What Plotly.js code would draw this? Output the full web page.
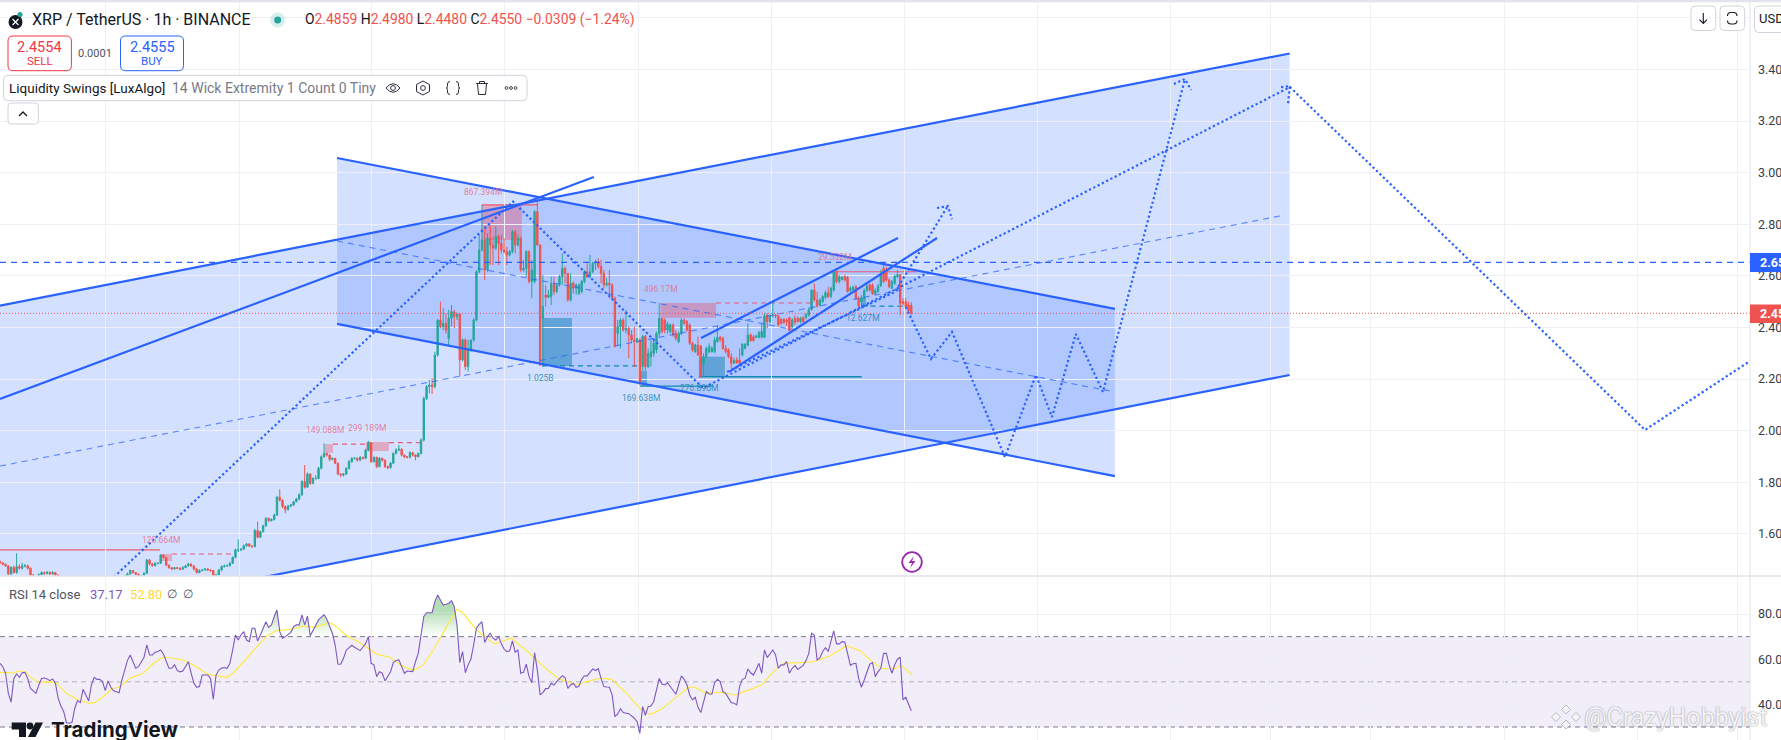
<!DOCTYPE html>
<html><head><meta charset="utf-8">
<script src="https://cdn.plot.ly/plotly-3.0.1.min.js"></script>
<style>html,body{margin:0;padding:0;background:#fff;overflow:hidden}#c{width:1781px;height:740px}</style>
</head><body><div id="c"></div>
<script>
// ---------- candles (hourly bars) ----------
const open=[1.492,1.488,1.482,1.476,1.445,1.470,1.450,1.473,1.467,1.476,
1.477,1.467,1.441,1.432,1.428,1.442,1.450,1.446,1.451,1.445,
1.450,1.441,1.432,1.428,1.425,1.422,1.418,1.420,1.416,1.413,
1.417,1.421,1.419,1.415,1.412,1.416,1.420,1.423,1.421,1.418,
1.422,1.425,1.423,1.427,1.428,1.432,1.437,1.445,1.458,1.450,
1.444,1.434,1.437,1.447,1.499,1.483,1.477,1.486,1.486,1.518,
1.509,1.479,1.469,1.464,1.469,1.467,1.463,1.469,1.476,1.483,
1.476,1.464,1.450,1.458,1.460,1.464,1.460,1.458,1.438,1.441,
1.460,1.473,1.476,1.477,1.486,1.509,1.538,1.538,1.541,1.554,
1.561,1.553,1.551,1.613,1.587,1.609,1.631,1.660,1.651,1.656,
1.673,1.742,1.731,1.706,1.695,1.708,1.712,1.725,1.735,1.751,
1.803,1.781,1.832,1.796,1.815,1.815,1.854,1.899,1.912,1.906,
1.889,1.893,1.874,1.832,1.828,1.832,1.854,1.880,1.893,1.893,
1.886,1.897,1.893,1.925,1.954,1.880,1.897,1.861,1.893,1.886,
1.861,1.857,1.874,1.912,1.925,1.928,1.906,1.899,1.897,1.915,
1.906,1.899,1.912,1.964,2.125,2.171,2.177,2.171,2.293,2.429,
2.403,2.416,2.358,2.436,2.461,2.442,2.452,2.274,2.352,2.248,
2.313,2.352,2.429,2.616,2.700,2.739,2.623,2.746,2.720,2.707,
2.752,2.726,2.700,2.694,2.681,2.694,2.771,2.720,2.746,2.623,
2.629,2.694,2.578,2.578,2.849,2.720,2.436,2.526,2.517,2.520,
2.571,2.539,2.565,2.597,2.629,2.610,2.507,2.571,2.552,2.532,
2.539,2.578,2.616,2.597,2.616,2.649,2.655,2.636,2.610,2.565,
2.571,2.565,2.513,2.377,2.403,2.429,2.390,2.397,2.371,2.352,
2.345,2.352,2.248,2.365,2.248,2.287,2.300,2.313,2.377,2.436,
2.429,2.390,2.384,2.410,2.377,2.345,2.377,2.429,2.423,2.410,
2.339,2.306,2.332,2.328,2.255,2.287,2.306,2.306,2.306,2.345,
2.362,2.358,2.319,2.313,2.287,2.261,2.274,2.274,2.293,2.319,
2.332,2.371,2.364,2.362,2.362,2.362,2.362,2.448,2.423,2.445,
2.448,2.445,2.432,2.432,2.429,2.438,2.403,2.436,2.436,2.423,
2.438,2.438,2.448,2.470,2.545,2.507,2.487,2.500,2.517,2.535,
2.520,2.545,2.617,2.578,2.587,2.597,2.595,2.543,2.545,2.558,
2.513,2.500,2.513,2.543,2.565,2.565,2.530,2.539,2.561,2.629,
2.623,2.584,2.552,2.571,2.597,2.604,2.500,2.500,2.487,2.4859];
const high=[1.497,1.490,1.486,1.478,1.474,1.478,1.525,1.482,1.488,1.484,
1.480,1.470,1.444,1.435,1.447,1.455,1.454,1.456,1.454,1.456,
1.452,1.436,1.432,1.430,1.428,1.426,1.424,1.423,1.420,1.421,
1.424,1.424,1.421,1.418,1.419,1.423,1.426,1.425,1.424,1.425,
1.428,1.428,1.430,1.431,1.435,1.440,1.450,1.462,1.460,1.452,
1.446,1.440,1.452,1.503,1.502,1.488,1.490,1.490,1.520,1.522,
1.510,1.481,1.472,1.472,1.472,1.470,1.475,1.480,1.488,1.486,
1.478,1.466,1.463,1.464,1.468,1.468,1.463,1.460,1.445,1.464,
1.478,1.481,1.482,1.492,1.512,1.543,1.579,1.545,1.559,1.565,
1.564,1.556,1.620,1.647,1.612,1.636,1.665,1.664,1.660,1.678,
1.748,1.773,1.734,1.710,1.712,1.716,1.728,1.740,1.758,1.808,
1.867,1.838,1.835,1.820,1.828,1.860,1.905,1.951,1.915,1.908,
1.896,1.894,1.876,1.835,1.836,1.858,1.886,1.897,1.898,1.896,
1.901,1.899,1.930,1.960,1.955,1.900,1.899,1.898,1.895,1.888,
1.864,1.878,1.916,1.932,1.945,1.932,1.905,1.902,1.920,1.918,
1.908,1.915,1.970,2.132,2.177,2.197,2.203,2.306,2.432,2.500,
2.474,2.455,2.468,2.487,2.468,2.458,2.455,2.358,2.358,2.352,
2.352,2.436,2.623,2.759,2.875,2.784,2.765,2.797,2.752,2.791,
2.759,2.759,2.746,2.713,2.700,2.778,2.778,2.759,2.752,2.662,
2.700,2.700,2.662,2.855,2.901,2.723,2.603,2.565,2.545,2.597,
2.597,2.571,2.603,2.687,2.636,2.610,2.610,2.578,2.571,2.571,
2.584,2.623,2.649,2.681,2.655,2.662,2.668,2.662,2.623,2.591,
2.623,2.571,2.520,2.429,2.436,2.436,2.468,2.403,2.390,2.403,
2.358,2.358,2.371,2.371,2.319,2.352,2.352,2.384,2.495,2.436,
2.436,2.423,2.416,2.416,2.390,2.384,2.436,2.436,2.429,2.416,
2.345,2.336,2.364,2.332,2.300,2.326,2.339,2.328,2.364,2.406,
2.367,2.364,2.332,2.319,2.300,2.281,2.285,2.319,2.339,2.339,
2.416,2.377,2.371,2.372,2.387,2.416,2.455,2.455,2.450,2.500,
2.452,2.448,2.436,2.436,2.436,2.442,2.436,2.448,2.442,2.442,
2.445,2.455,2.478,2.548,2.571,2.539,2.513,2.526,2.543,2.558,
2.558,2.623,2.623,2.604,2.600,2.604,2.600,2.561,2.561,2.565,
2.520,2.526,2.552,2.569,2.571,2.571,2.552,2.569,2.623,2.649,
2.636,2.591,2.584,2.604,2.623,2.607,2.513,2.513,2.500,2.498];
const low=[1.484,1.478,1.472,1.440,1.440,1.447,1.446,1.462,1.462,1.470,
1.462,1.436,1.428,1.424,1.426,1.440,1.442,1.444,1.441,1.443,
1.437,1.428,1.424,1.421,1.418,1.415,1.414,1.412,1.410,1.411,
1.415,1.416,1.412,1.409,1.410,1.414,1.418,1.418,1.415,1.416,
1.420,1.420,1.421,1.424,1.426,1.430,1.434,1.442,1.446,1.440,
1.430,1.431,1.435,1.445,1.478,1.473,1.474,1.482,1.484,1.505,
1.475,1.465,1.460,1.462,1.463,1.459,1.461,1.470,1.474,1.472,
1.458,1.446,1.448,1.455,1.458,1.456,1.453,1.435,1.436,1.439,
1.455,1.470,1.473,1.474,1.484,1.505,1.530,1.533,1.538,1.550,
1.549,1.546,1.548,1.583,1.584,1.605,1.628,1.647,1.648,1.652,
1.670,1.725,1.700,1.680,1.690,1.703,1.708,1.722,1.730,1.748,
1.776,1.778,1.790,1.792,1.810,1.812,1.850,1.895,1.900,1.882,
1.885,1.870,1.828,1.820,1.822,1.828,1.850,1.876,1.888,1.880,
1.882,1.888,1.889,1.920,1.875,1.876,1.855,1.858,1.880,1.855,
1.850,1.852,1.870,1.908,1.920,1.900,1.893,1.892,1.893,1.900,
1.885,1.896,1.908,1.958,2.119,2.145,2.142,2.164,2.287,2.397,
2.390,2.377,2.326,2.403,2.397,2.429,2.210,2.268,2.235,2.229,
2.306,2.345,2.423,2.610,2.694,2.584,2.616,2.642,2.642,2.700,
2.642,2.687,2.687,2.642,2.675,2.687,2.687,2.713,2.616,2.616,
2.597,2.571,2.513,2.571,2.716,2.251,2.248,2.481,2.513,2.487,
2.526,2.532,2.558,2.565,2.571,2.500,2.500,2.532,2.526,2.526,
2.532,2.571,2.591,2.591,2.610,2.623,2.629,2.571,2.552,2.558,
2.513,2.507,2.323,2.326,2.319,2.384,2.377,2.281,2.339,2.248,
2.339,2.177,2.235,2.235,2.242,2.248,2.287,2.300,2.365,2.377,
2.377,2.377,2.377,2.364,2.349,2.339,2.371,2.410,2.384,2.332,
2.306,2.302,2.290,2.207,2.209,2.281,2.300,2.302,2.300,2.341,
2.345,2.313,2.300,2.281,2.242,2.259,2.259,2.259,2.287,2.315,
2.328,2.345,2.345,2.358,2.358,2.358,2.358,2.397,2.416,2.439,
2.436,2.403,2.410,2.414,2.406,2.384,2.397,2.410,2.419,2.416,
2.416,2.432,2.442,2.465,2.500,2.478,2.481,2.494,2.509,2.513,
2.513,2.539,2.571,2.571,2.582,2.578,2.535,2.535,2.543,2.507,
2.478,2.478,2.507,2.537,2.539,2.526,2.526,2.535,2.558,2.574,
2.578,2.552,2.548,2.565,2.591,2.448,2.487,2.474,2.452,2.448];
const close=[1.488,1.482,1.476,1.445,1.470,1.450,1.473,1.467,1.476,1.477,
1.467,1.441,1.432,1.428,1.442,1.450,1.446,1.451,1.445,1.450,
1.441,1.432,1.428,1.425,1.422,1.418,1.420,1.416,1.413,1.417,
1.421,1.419,1.415,1.412,1.416,1.420,1.423,1.421,1.418,1.422,
1.425,1.423,1.427,1.428,1.432,1.437,1.445,1.458,1.450,1.444,
1.434,1.437,1.447,1.499,1.483,1.477,1.486,1.486,1.518,1.509,
1.479,1.469,1.464,1.469,1.467,1.463,1.469,1.476,1.483,1.476,
1.464,1.450,1.458,1.460,1.464,1.460,1.458,1.438,1.441,1.460,
1.473,1.476,1.477,1.486,1.509,1.538,1.538,1.541,1.554,1.561,
1.553,1.551,1.613,1.587,1.609,1.631,1.660,1.651,1.656,1.673,
1.742,1.731,1.706,1.695,1.708,1.712,1.725,1.735,1.751,1.803,
1.781,1.832,1.796,1.815,1.815,1.854,1.899,1.912,1.906,1.889,
1.893,1.874,1.832,1.828,1.832,1.854,1.880,1.893,1.893,1.886,
1.897,1.893,1.925,1.954,1.880,1.897,1.861,1.893,1.886,1.861,
1.857,1.874,1.912,1.925,1.928,1.906,1.899,1.897,1.915,1.906,
1.899,1.912,1.964,2.125,2.171,2.177,2.171,2.293,2.429,2.403,
2.416,2.390,2.436,2.461,2.442,2.452,2.274,2.352,2.248,2.313,
2.352,2.429,2.616,2.700,2.739,2.623,2.746,2.720,2.707,2.752,
2.726,2.700,2.694,2.681,2.694,2.771,2.720,2.746,2.623,2.629,
2.694,2.578,2.623,2.849,2.720,2.255,2.481,2.517,2.526,2.571,
2.539,2.565,2.597,2.629,2.610,2.507,2.571,2.552,2.565,2.565,
2.578,2.616,2.597,2.616,2.649,2.655,2.636,2.610,2.565,2.571,
2.565,2.513,2.326,2.403,2.429,2.390,2.397,2.371,2.352,2.345,
2.358,2.184,2.365,2.248,2.300,2.306,2.339,2.377,2.436,2.384,
2.390,2.414,2.410,2.371,2.358,2.377,2.429,2.416,2.390,2.339,
2.313,2.332,2.293,2.209,2.287,2.319,2.326,2.319,2.352,2.362,
2.352,2.319,2.306,2.287,2.261,2.272,2.264,2.261,2.335,2.335,
2.371,2.349,2.349,2.367,2.380,2.384,2.445,2.423,2.445,2.448,
2.445,2.410,2.416,2.419,2.423,2.388,2.429,2.419,2.423,2.436,
2.423,2.451,2.470,2.545,2.507,2.483,2.507,2.520,2.535,2.520,
2.552,2.617,2.578,2.597,2.595,2.584,2.539,2.552,2.556,2.513,
2.483,2.517,2.543,2.561,2.545,2.530,2.543,2.561,2.604,2.578,
2.584,2.558,2.578,2.600,2.604,2.494,2.494,2.478,2.465,2.455];
const barIndex=close.map((_,i)=>i);
// ---------- RSI ----------
const rsi=[58.2,56.7,53.8,45,41,51.5,53.5,52,54,54.2,
51.5,47.1,46,44.9,48.6,51.5,51.7,51.3,50.5,51.3,
49.4,42.7,39.3,36.8,31.9,31.7,32.1,38.3,41.7,40.8,
46.7,43.7,41.5,48.6,52,51.1,51.1,50.1,46.1,50.4,
47.6,46,45.5,45.2,50.8,55.7,59.4,61.9,59.2,56,
56.7,58.9,60.9,66.3,61.9,61.9,63.1,63.4,64.1,62.3,
59.4,56,56,57.5,55,54.4,54.8,57.2,58.9,53.8,
49.4,47.6,47.9,53,53,53,51.5,42.3,53,55.2,
56.1,56.3,56,58.2,64.1,70.7,68.5,70.7,72.2,68.5,
67.8,73.7,73.7,68.1,70.7,74.1,76.6,74.1,75.2,78.9,
81.8,72.2,69.3,70,70.9,71.9,74.4,75.2,75.2,79.6,
75.2,79.1,70.4,72.9,75.6,77.4,78.6,79.7,77.7,74.7,
71.5,66.3,57.9,57.8,60.4,64,65.3,66.2,65.3,64.7,
63.8,65.3,67,70,58.2,57.5,52.3,54.5,53.8,50.4,
52.3,54.5,58.5,59.4,59.7,56.7,53.8,54.8,54.5,54.5,
58.9,62.6,70.7,78.9,80.6,80.6,80.6,85.5,88.4,86.2,
84,84.3,84.7,85.9,83.3,75.2,58.5,63.4,54,57.5,
60,66.3,73.7,75.4,76.6,67.4,70,71.5,69.3,68.5,
70,66.8,64.5,63.4,63.7,68.1,63.1,64.1,53.8,54.2,
57.8,52.3,49.6,62.9,55.2,44.2,45.2,47,47.1,49.4,
48.6,50.1,51.5,52.7,51.9,47.1,48.6,49.4,47.6,48,
51.1,52.7,52.6,54,55.7,55,55.8,51.5,47.9,47.7,
47.6,44.2,34.6,35.8,38.1,36.4,36.2,35.9,34.9,33.9,
32.4,27.2,39,35.2,39,39.3,41.2,47.1,51.5,49,
48.6,49.6,47.9,46.4,44.5,48.6,52.6,51.1,48.6,44.2,
42,43.2,38.7,36.4,41.2,45.7,44.6,44.5,49.6,51.1,
50.1,45.7,44.9,42.7,40.8,40.5,39.8,47.9,51.1,51.5,
55.7,54,53,55.5,58.2,53.8,64.1,60.7,62.6,64.1,
61.9,56,57.5,57.5,58.9,53.8,56,57.2,55.5,56.4,
57.3,59.4,62.6,71.5,70.7,59.7,60.6,63.4,65.1,63.4,
67.8,72.6,66.8,66.8,67.8,67.6,62.6,57.3,58,58.2,
51.5,47.6,50.8,54.5,57.8,58.5,52.3,54.5,56,62.6,
62.6,57.5,53.8,57.5,60,60.9,42,43.2,40.5,37.2];
const rsiMaBar=[0,2.4,4.8,6.6,9,10.8,13.8,18,20.5,24,27.7,31.9,34.3,37.3,40.3,43.3,46.9,51.7,55.4,59,66.2,71,74.6,81.8,84.2,89,92.7,96.3,99.9,104.7,109.5,113.7,119.1,121.5,125.1,128.7,132.4,136,140.8,144.4,149.2,152.8,156.4,160,164.9,166.7,172,175.7,178.7,181.7,184.7,188.3,192.6,196.2,201.6,208.2,211.8,216.6,220.8,226.2,231,234.7,238.3,243.7,248.5,250.9,255.1,259.9,265.4,269.6,275,279.2,282.8,288.8,293.6,299.6,305.7,310.5,314.1,318.3,322.5,325.5,329.4];
const rsiMaVal=[54.2,54.2,53.8,54.8,54.5,52.3,49.8,50.1,49.3,44.9,42.3,40.5,40.8,43.5,46.7,47.9,51.6,53.8,58.2,61.1,59.7,56.7,53.5,52,53.8,60.4,65.8,70.3,72.7,73.2,74.7,74.1,76.2,74.4,70.4,68.2,65.3,62.2,60.9,57.5,55,57.5,64.1,71.5,82.1,81,73,69.3,66.8,68.2,69.3,65.6,61.1,56.7,51.5,48.6,50.1,51.6,51.1,44.9,38.3,35.6,37.5,42.7,47.6,47.6,44.9,45.4,44.2,46.1,48.6,54.5,58.2,58.5,58.9,61.4,66,63.8,59.7,56,55.7,57.2,53];
// ---------- axis ticks ----------
const priceTicks=[1.6,1.8,2,2.2,2.4,2.6,2.8,3,3.2,3.4,3.6];
const priceTickText=['1.60','1.80','2.00','2.20','2.40','2.60','2.80','3.00','3.20','3.40',''];
const rsiTicks=[40,60,80];
const rsiTickText=['40.0','60.0','80.0'];
const timeGridBars=[38.1,86.3,134.3,182.1,230.6,278.6,326.6,374.5,422.5,458.7,494.7,543.1,591.2,627.3];
// ---------- channels (bar, price) ----------
const bigChannelBars=[0,465.6,465.6,0], bigChannelPrices=[2.485,3.462,2.216,1.231];
const bigMidBars=[0,463.9], bigMidPrices=[1.863,2.836];
const downChannelBars=[121.7,402.5,402.5,121.7], downChannelPrices=[3.057,2.472,1.824,2.414];
const downMidBars=[121.7,402.5], downMidPrices=[2.735,2.150];
const leftLineBars=[0,214.4], leftLinePrices=[2.123,2.983];
const upperUpBars=[253.1,324.2], upperUpPrices=[2.359,2.747];
const lowerUpBars=[263.2,338.3], lowerUpPrices=[2.228,2.747];
// ---------- dotted projections ----------
const path1Bars=[36.1,185.2,253.8,465.7,593.9,631.8], path1Prices=[1.382,2.888,2.165,3.332,2.003,2.270];
const head1Bars=[462.5,465.7,465], head1Prices=[3.332,3.336,3.266];
const path2Bars=[327,336.1,343.7,362.8,374,379.8,388.4,398.2,427.8], path2Prices=[2.479,2.278,2.383,1.898,2.216,2.053,2.375,2.150,3.363];
const head2Bars=[423.8,427.8,430], head2Prices=[3.344,3.363,3.321];
const path3Bars=[262.5,323.1,342.2], path3Prices=[2.228,2.538,2.871];
const head3Bars=[338.3,342.2,343.7], head3Prices=[2.863,2.871,2.820];
// ---------- levels ----------
const lastPrice=2.455, bluePrice=2.6527;
const rsiUpper=70, rsiMiddle=50, rsiLower=30;
// [bar0, bar1, price0, price1]
const pinkZones=[[174,188.4,2.875,2.739],[238.5,258.5,2.495,2.438],[57.8,62.1,1.522,1.495],[117.3,120.2,1.948,1.914],[132.1,140.4,1.956,1.921]];
const blueZones=[[195.7,206.5,2.437,2.251],[231.3,233.6,2.233,2.173],[252.3,261.7,2.287,2.209],[310.8,312.6,2.514,2.483]];
// [bar0, bar1, price]
const redSolid=[[174,194.2,2.875],[302,331,2.616],[0,57.8,1.538]];
const redDash=[[258.5,293.5,2.495],[62.1,84.8,1.522],[120.2,132.1,1.948],[140.4,151.6,1.954]];
const tealSolid=[[231,257.4,2.173],[252.3,311.1,2.209]];
const tealDash=[[195.7,231,2.251],[311,326.7,2.483]];
// [text, bar, price]
const redLabels=[['867.394M',174.4,2.925],['496.17M',238.5,2.549],['29.532M',301.3,2.674],['299.189M',132.5,2.011],['149.088M',117.3,2.003],['120.664M',58,1.576]];
const blueLabels=[['1.025B',195,2.204],['169.638M',231.3,2.127],['276.896M',252.2,2.165],['12.627M',311.5,2.437]];

const BLUE='#2962ff', W=1750, H=740;
const P=x=>x/W, Q=y=>1-y/H;
function pp(s){let n=0;return s.trim().split(/\s+/).map(t=>{if(/^[A-Za-z]$/.test(t)){return t}const v=parseFloat(t);const r=(n%2===0)?P(v):Q(v);n++;return r}).join(' ')}
function polyPath(xs,ys){return xs.map((x,i)=>(i?'L':'M')+x+','+ys[i]).join(' ')+' Z'}
function rr(x0,y0,x1,y1,r){return `M ${x0+r} ${y0} L ${x1-r} ${y0} Q ${x1} ${y0} ${x1} ${y0+r} L ${x1} ${y1-r} Q ${x1} ${y1} ${x1-r} ${y1} L ${x0+r} ${y1} Q ${x0} ${y1} ${x0} ${y1-r} L ${x0} ${y0+r} Q ${x0} ${y0} ${x0+r} ${y0} Z`}
const shapes=[];
function chrome(d,fill,lc,lw){shapes.push({type:'path',xref:'paper',yref:'paper',layer:'above',path:pp(d),fillcolor:fill||'rgba(0,0,0,0)',line:{color:lc||'rgba(0,0,0,0)',width:lw===undefined?1:lw}})}
function circ(cx,cy,r,fill,lc,lw){shapes.push({type:'circle',xref:'paper',yref:'paper',layer:'above',x0:P(cx-r),x1:P(cx+r),y0:Q(cy+r),y1:Q(cy-r),fillcolor:fill||'rgba(0,0,0,0)',line:{color:lc||'rgba(0,0,0,0)',width:lw===undefined?1:lw}})}
// channel fills
shapes.push({type:'path',xref:'x',yref:'y',layer:'below',path:polyPath(bigChannelBars,bigChannelPrices),fillcolor:'rgba(41,98,255,0.2)',line:{width:0}});
shapes.push({type:'path',xref:'x',yref:'y',layer:'below',path:polyPath(downChannelBars,downChannelPrices),fillcolor:'rgba(41,98,255,0.2)',line:{width:0}});
pinkZones.forEach(z=>shapes.push({type:'rect',xref:'x',yref:'y',layer:'below',x0:z[0],x1:z[1],y0:z[2],y1:z[3],fillcolor:'rgba(242,54,69,0.32)',line:{width:0}}));
blueZones.forEach(z=>shapes.push({type:'rect',xref:'x',yref:'y',layer:'below',x0:z[0],x1:z[1],y0:z[2],y1:z[3],fillcolor:'rgba(0,120,170,0.45)',line:{width:0}}));
const hl=(a,col,dash,w)=>a.forEach(l=>shapes.push({type:'line',xref:'x',yref:'y',layer:'below',x0:l[0],x1:l[1],y0:l[2],y1:l[2],line:{color:col,width:w,dash}}));
hl(redSolid,'#ec5a70','solid',1.2); hl(redDash,'#ec5a70','5px,4px',1.2);
hl(tealSolid,'#0f8aa8','solid',1.3); hl(tealDash,'#0f8aa8','5px,4px',1.3);
// RSI band and levels
shapes.push({type:'rect',xref:'paper',yref:'y2',layer:'below',x0:0,x1:1,y0:rsiLower,y1:rsiUpper,fillcolor:'rgba(126,87,194,0.1)',line:{width:0}});
[[rsiUpper,'#787b86'],[rsiLower,'#787b86'],[rsiMiddle,'rgba(120,123,134,0.55)']].forEach(a=>shapes.push({type:'line',xref:'paper',yref:'y2',layer:'below',x0:0,x1:1,y0:a[0],y1:a[0],line:{color:a[1],width:1,dash:'5px,4px'}}));
// frame
chrome(`M 0 0 L ${W+31} 0 L ${W+31} 2.2 L 0 2.2 Z`,'#e0e3eb');
chrome(`M 0 576 L ${W+31} 576`,null,'#e0e3eb',1.5);
chrome(`M ${W} 0 L ${W} 740`,null,'#e0e3eb',1);
// price labels on the scale
chrome(`M 1750 253 L 1790 253 L 1790 272 L 1750 272 Z`,BLUE);
chrome(`M 1750 304.5 L 1790 304.5 L 1790 323 L 1750 323 Z`,'#ef5350');
// toolbar chrome
circ(15.5,22,7,'#131722');
chrome('M 12.5 19 L 18.5 25 M 18.5 19 L 12.5 25',null,'#ffffff',1.2);
circ(20,14.5,2.6,'#26a69a');
circ(277.7,20,7.5,'rgba(38,166,154,0.18)');
circ(277.7,20,3.5,'#26a69a');
chrome(rr(8,36,71.4,70.7,5),'#ffffff','#f23645',1);
chrome(rr(120.5,36,183.5,70.7,5),'#ffffff',BLUE,1);
chrome(rr(3.6,75.3,527,100.7,4),'#ffffff','#d1d4dc',1);
chrome(rr(8,103,38.4,124,3),'#ffffff','#d1d4dc',1);
chrome('M 19 116 L 23 112 L 27 116',null,'#131722',1.3);
const ic='#2a2e39';
chrome('M 386 88 Q 393 79.5 400 88 Q 393 96.5 386 88 Z',null,ic,1);
circ(393,88,2.4,null,ic,1);
chrome('M 423 81 L 429.5 84.5 L 429.5 91.5 L 423 95 L 416.5 91.5 L 416.5 84.5 Z',null,ic,1);
circ(423,88,2.4,null,ic,1);
chrome('M 450 81.5 Q 447.5 81.5 447.5 84 L 447.5 86.5 Q 447.5 88 446 88 Q 447.5 88 447.5 89.5 L 447.5 92 Q 447.5 94.5 450 94.5',null,ic,1);
chrome('M 456 81.5 Q 458.5 81.5 458.5 84 L 458.5 86.5 Q 458.5 88 460 88 Q 458.5 88 458.5 89.5 L 458.5 92 Q 458.5 94.5 456 94.5',null,ic,1);
chrome('M 476 83.5 L 488 83.5 M 479.5 83.5 L 479.5 81.5 L 484.5 81.5 L 484.5 83.5 M 477.5 83.5 L 478.5 94.5 L 485.5 94.5 L 486.5 83.5',null,ic,1);
[506.5,511,515.5].forEach(x=>circ(x,88,1.4,null,ic,0.9));
chrome(rr(1691,6,1715.7,30.5,4),'#ffffff','#d1d4dc',1);
chrome(rr(1720,6,1744.6,30.5,4),'#ffffff','#d1d4dc',1);
chrome('M 1703.3 13 L 1703.3 23.5 M 1699.5 19.7 L 1703.3 23.5 L 1707 19.7',null,'#131722',1.1);
chrome('M 1727.5 16 Q 1727.5 12.5 1731 12.5 L 1733.5 12.5 Q 1737 12.5 1737 16 M 1737 20.5 Q 1737 24 1733.5 24 L 1731 24 Q 1727.5 24 1727.5 20.5',null,'#131722',1.1);
chrome(rr(1754.5,6,1795,32.5,4),'#ffffff','#d1d4dc',1);
// event icon
circ(912,562,9.8,'rgba(255,255,255,0.55)','#9c27b0',1.8);
chrome('M 914 556 L 908.5 563 L 912 563 L 910 568 L 915.5 561 L 912 561 Z','#9c27b0');
// TradingView mark
chrome('M 11.7 722.5 L 26 722.5 L 26 737 L 19 737 L 19 729.5 L 11.7 729.5 Z','#131722');
circ(30,726,3.4,'#131722');
chrome('M 35.5 722.5 L 43 722.5 L 35.5 737 L 28 737 Z','#131722');
// watermark mark
['M 1566 705 L 1570.5 709.5 L 1566 714 L 1561.5 709.5 Z','M 1556 712.5 L 1560.5 717 L 1556 721.5 L 1551.5 717 Z','M 1576 712.5 L 1580.5 717 L 1576 721.5 L 1571.5 717 Z','M 1566 720 L 1570.5 724.5 L 1566 729 L 1561.5 724.5 Z'].forEach(d=>chrome(d,'#f4f4f7','#a9a9b3',0.8));

const UI='Roboto, sans-serif';
const anns=[];
function txt(t,x,y,size,color,opt){opt=opt||{};anns.push(Object.assign({text:t,xref:'paper',yref:'paper',x:P(x),y:Q(y),xanchor:opt.a||'left',yanchor:'middle',showarrow:false,borderpad:0,font:Object.assign({family:UI,size,color},opt.f||{})},opt.o||{}))}
const dn=s=>`<span style="color:#ef5350">${s}</span>`;
txt('XRP / TetherUS · 1h · BINANCE',31,19.8,16,'#131722');
txt(`O${dn('2.4859')} H${dn('2.4980')} L${dn('2.4480')} C${dn('2.4550')} ${dn('−0.0309 (−1.24%)')}`,304,19.8,13.9,'#131722');
txt('2.4554',39.7,47,14.5,'#f23645',{a:'center'});
txt('SELL',39.7,61.5,11.5,'#f23645',{a:'center'});
txt('0.0001',95,53,11,'#50535e',{a:'center'});
txt('2.4555',152,47,14.5,BLUE,{a:'center'});
txt('BUY',152,61.5,11.5,BLUE,{a:'center'});
txt('Liquidity Swings [LuxAlgo]',8,88,13.5,'#131722');
txt('14 Wick Extremity 1 Count 0 Tiny',171,88,14,'#787b86');
txt('USD',1758,19,13,'#131722');
txt('2.65',1759,262.5,12.5,'#ffffff',{f:{weight:700}});
txt('2.45',1759,313.8,12.5,'#ffffff',{f:{weight:700}});
txt('RSI 14 close',8,594,13,'#50535e');
txt('37.17',89,594,13,'#7e57c2');
txt('52.80',129,594,12.8,'#fdd835');
txt('∅',166,594,12,'#50535e');
txt('∅',182,594,12,'#50535e');
txt('TradingView',50,729.5,20.5,'#131722',{f:{family:'Inter, Roboto, sans-serif',weight:700}});
txt('@CrazyHobbyist',1583,717,25,'#f3f3f6',{f:{shadow:'0 0 1.5px #77777f'}});
redLabels.forEach(l=>anns.push({text:l[0],xref:'x',yref:'y',x:l[1],y:l[2],showarrow:false,xanchor:'center',yanchor:'middle',font:{family:UI,size:8.5,color:'rgba(226,110,140,0.85)'}}));
blueLabels.forEach(l=>anns.push({text:l[0],xref:'x',yref:'y',x:l[1],y:l[2],showarrow:false,xanchor:'center',yanchor:'middle',font:{family:UI,size:8.5,color:'rgba(25,130,170,0.85)'}}));

const ln=(x,y,w,dash,col)=>({type:'scatter',mode:'lines',x,y,xaxis:'x',yaxis:'y',hoverinfo:'skip',showlegend:false,line:{color:col||BLUE,width:w,dash:dash||'solid'}});
const DOT='2.2px,2.6px', DASH='6px,5px', SOFT='rgba(41,98,255,0.72)';
const traces=[
 {type:'candlestick',x:barIndex,open,high,low,close,xaxis:'x',yaxis:'y',showlegend:false,hoverinfo:'skip',whiskerwidth:0,
  increasing:{line:{color:'#26a69a',width:1},fillcolor:'#26a69a'},decreasing:{line:{color:'#ef5350',width:1},fillcolor:'#ef5350'}},
 ln([bigChannelBars[0],bigChannelBars[1]],[bigChannelPrices[0],bigChannelPrices[1]],2.2),
 ln([bigChannelBars[3],bigChannelBars[2]],[bigChannelPrices[3],bigChannelPrices[2]],2.2),
 ln(bigMidBars,bigMidPrices,1.1,DASH,SOFT),
 ln([downChannelBars[0],downChannelBars[1]],[downChannelPrices[0],downChannelPrices[1]],2.2),
 ln([downChannelBars[3],downChannelBars[2]],[downChannelPrices[3],downChannelPrices[2]],2.2),
 ln(downMidBars,downMidPrices,1.1,DASH,SOFT),
 ln(leftLineBars,leftLinePrices,2.2),
 ln(upperUpBars,upperUpPrices,2.2),
 ln(lowerUpBars,lowerUpPrices,2.2),
 ln(path1Bars,path1Prices,2.2,DOT), ln(head1Bars,head1Prices,2.2,DOT),
 ln(path2Bars,path2Prices,2.2,DOT), ln(head2Bars,head2Prices,2.2,DOT),
 ln(path3Bars,path3Prices,2.2,DOT), ln(head3Bars,head3Prices,2.2,DOT),
 {type:'scatter',mode:'lines',x:[0,631.8],y:[bluePrice,bluePrice],hoverinfo:'skip',showlegend:false,line:{color:BLUE,width:1.2,dash:'6px,5px'}},
 {type:'scatter',mode:'lines',x:[0,631.8],y:[lastPrice,lastPrice],hoverinfo:'skip',showlegend:false,line:{color:'#ef5350',width:1,dash:'1px,2px'}},
 {type:'scatter',mode:'lines',x:barIndex,y:barIndex.map(()=>rsiUpper),xaxis:'x',yaxis:'y2',hoverinfo:'skip',showlegend:false,line:{width:0}},
 {type:'scatter',mode:'lines',x:barIndex,y:rsi.map(v=>Math.max(v,rsiUpper)),xaxis:'x',yaxis:'y2',hoverinfo:'skip',showlegend:false,line:{width:0},fill:'tonexty',
  fillgradient:{type:'vertical',start:rsiUpper,stop:82,colorscale:[[0,'rgba(76,175,80,0)'],[1,'rgba(76,175,80,0.42)']]}},
 {type:'scatter',mode:'lines',x:rsiMaBar,y:rsiMaVal,xaxis:'x',yaxis:'y2',hoverinfo:'skip',showlegend:false,line:{color:'#ffe93b',width:1.1}},
 {type:'scatter',mode:'lines',x:barIndex,y:rsi,xaxis:'x',yaxis:'y2',hoverinfo:'skip',showlegend:false,line:{color:'#7e57c2',width:1.1}}
];
const tickFont={family:UI,size:12.5,color:'#3a3d47'};
const layout={width:1781,height:740,margin:{l:0,r:31,t:0,b:0,pad:0},paper_bgcolor:'#fff',plot_bgcolor:'#fff',showlegend:false,
 xaxis:{type:'linear',range:[0,631.8],anchor:'y2',showticklabels:false,ticks:'',tickmode:'array',tickvals:timeGridBars,showgrid:true,gridcolor:'#eef0f5',gridwidth:1,zeroline:false,showline:false,rangeslider:{visible:false},fixedrange:true},
 yaxis:{domain:[164/740,738/740],range:[1.4368,3.6616],side:'right',anchor:'x',tickmode:'array',tickvals:priceTicks,ticktext:priceTickText,ticks:'',ticklabelstandoff:7,tickfont:tickFont,showgrid:true,gridcolor:'#eef0f5',zeroline:false,showline:false,fixedrange:true},
 yaxis2:{domain:[0,163/740],range:[24.25,96.4],side:'right',anchor:'x',tickmode:'array',tickvals:rsiTicks,ticktext:rsiTickText,ticks:'',ticklabelstandoff:7,tickfont:tickFont,showgrid:true,gridcolor:'#eef0f5',zeroline:false,showline:false,fixedrange:true},
 shapes,annotations:anns};
Plotly.newPlot('c',traces,layout,{staticPlot:true,displayModeBar:false});
</script></body></html>
